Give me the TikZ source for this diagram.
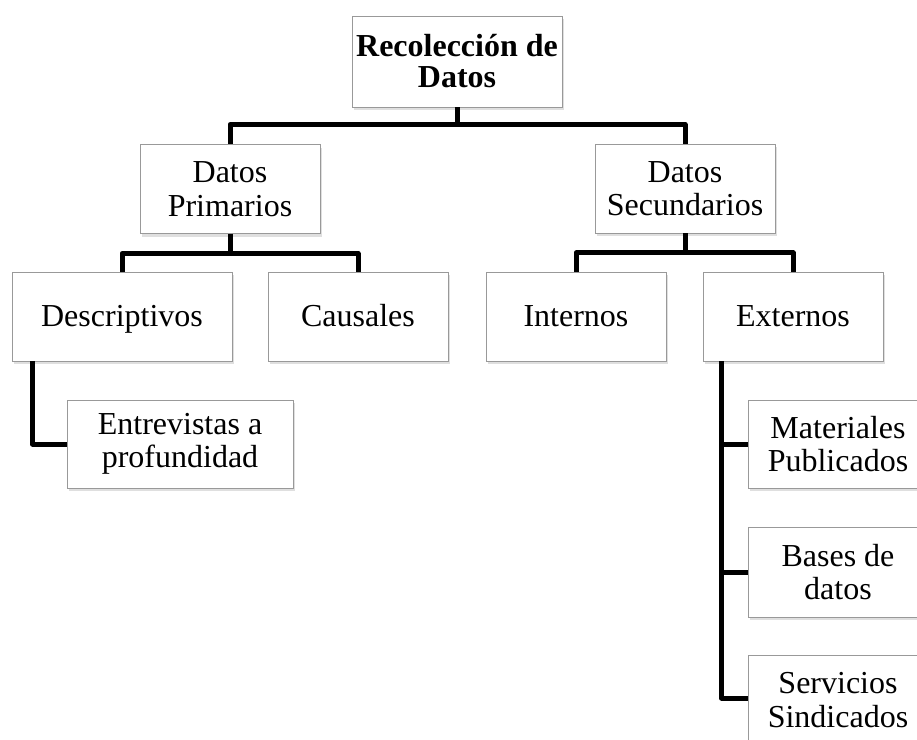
\documentclass[tikz,border=0pt]{standalone}
\usepackage{fontspec}
\setmainfont{Liberation Serif}
\usetikzlibrary{shadows,positioning}

\tikzset{
	caja/.style={rectangle, draw=gray!80, line width=0.8pt, fill=white, align=center,
		font=\fontsize{32}{33.5}\selectfont, inner sep=0pt,
		minimum width=180pt, minimum height=89pt,
		drop shadow={opacity=0.25, shadow xshift=1.5pt, shadow yshift=-3pt}},
	unalinea/.style={text height=21pt, text depth=2pt},
	rama/.style={line width=5pt, black, line join=round}
}

\begin{document}
\begin{tikzpicture}[x=1pt, y=-1pt]
			\clip (0,0) rectangle (917,739);
			\fill[white] (0,0) rectangle (917,739);

			\node (rec) [caja, minimum width=210pt, minimum height=91pt, font=\fontsize{32}{31}\selectfont\bfseries] at (457,61.5) {Recolección de\\Datos};
			\node (dp) [caja] at (230,189) {Datos\\Primarios};
			\node (ds) [caja] at (685,188.5) {Datos\\Secundarios};
			\node (desc) [caja, unalinea, minimum width=220pt] at (122,316.5) {Descriptivos};
			\node (caus) [caja, unalinea] at (358,316.5) {Causales};
			\node (int) [caja, unalinea] at (576,316.5) {Internos};
			\node (ext) [caja, unalinea] at (793,316.5) {Externos};
			\node (ent) [caja, minimum width=226pt, minimum height=88pt] at (180,444) {Entrevistas a\\profundidad};
			\node (mat) [caja, minimum height=88pt] at (838,444) {Materiales\\Publicados};
			\node (bas) [caja, minimum height=90pt] at (838,572) {Bases de\\datos};
			\node (serv) [caja, minimum height=90pt] at (838,700) {Servicios\\Sindicados};

			\draw[rama] (rec.south) -- ++(0,17) -| (dp.north);
			\draw[rama] (rec.south) -- ++(0,17) -| (ds.north);
			\draw[rama] (dp.south) -- ++(0,19.5) -| (desc.north);
			\draw[rama] (dp.south) -- ++(0,19.5) -| (caus.north);
			\draw[rama] (ds.south) -- ++(0,19.5) -| (int.north);
			\draw[rama] (ds.south) -- ++(0,19.5) -| (ext.north);
			\draw[rama] ([xshift=21pt]desc.south west) |- (ent.west);
			\draw[rama] ([xshift=19pt]ext.south west) |- (mat.west);
			\draw[rama] ([xshift=19pt]ext.south west) |- (bas.west);
			\draw[rama] ([xshift=19pt]ext.south west) |- ([yshift=2pt]serv.west);
		\end{tikzpicture}
\end{document}
